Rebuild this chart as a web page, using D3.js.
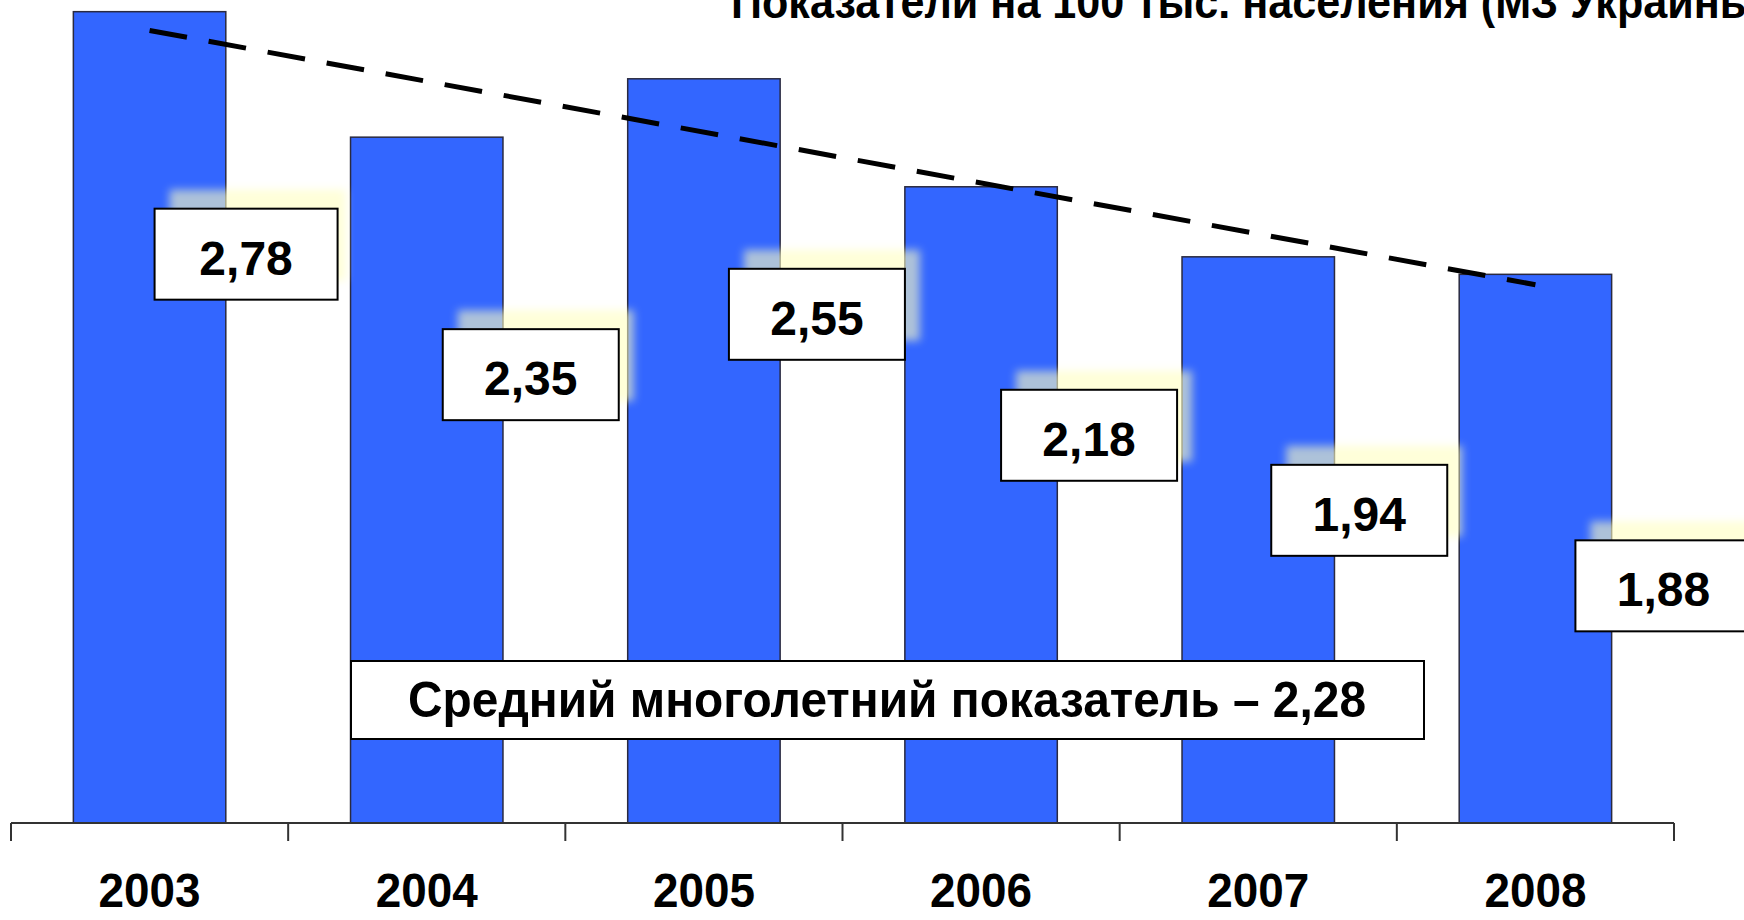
<!DOCTYPE html>
<html>
<head>
<meta charset="utf-8">
<script src="https://cdn.jsdelivr.net/npm/d3@7"></script>
<style>
  body { margin: 0; background: #fff; }
  svg { display: block; }
  text { font-family: "Liberation Sans", Arial, sans-serif; font-weight: bold; }
</style>
</head>
<body>
<svg width="1744" height="920"></svg>
<script>
var years = ["2003", "2004", "2005", "2006", "2007", "2008"];
var values = [2.78, 2.35, 2.55, 2.18, 1.94, 1.88];
var valueLabels = ["2,78", "2,35", "2,55", "2,18", "1,94", "1,88"];
var avgValue = "2,28";
var titleText = "Показатели на 100 тыс. населения (МЗ Украины)";
var avgText = "Средний многолетний показатель – " + avgValue;

// hand placed label boxes (offset from bar centre / bar top), as in the slide
var labelDx = [5, 16, 25, 20, 13, 40];
var labelDy = [197, 192, 190, 203, 208, 266];

var svg = d3.select("svg"),
  width = +svg.attr("width"),
  height = +svg.attr("height");

var baseY = 823;

var x = d3.scaleBand()
  .domain(years)
  .range([11, 1674])
  .paddingInner(0.45)
  .paddingOuter(0.225);

var y = d3.scaleLinear().domain([0, 2.82]).range([baseY, 0]);

var defs = svg.append("defs");
defs.append("filter")
  .attr("id", "glow")
  .attr("x", "-20%").attr("y", "-20%")
  .attr("width", "140%").attr("height", "140%")
  .append("feGaussianBlur")
  .attr("stdDeviation", 4);

// bars
svg.append("g")
  .selectAll("rect")
  .data(values)
  .enter()
  .append("rect")
  .attr("x", function (d, i) { return x(years[i]); })
  .attr("y", function (d) { return y(d); })
  .attr("width", x.bandwidth())
  .attr("height", function (d) { return baseY - y(d); })
  .attr("fill", "#3366ff")
  .attr("stroke", "#2a2a40")
  .attr("stroke-width", 1.5);

// axis line and ticks
var step = x.step();
var axis = svg.append("g").attr("stroke", "#333").attr("stroke-width", 2);
axis.append("line")
  .attr("x1", x.range()[0]).attr("x2", x.range()[1])
  .attr("y1", baseY).attr("y2", baseY);
axis.selectAll("line.tick")
  .data(d3.range(years.length + 1))
  .enter()
  .append("line")
  .attr("class", "tick")
  .attr("x1", function (i) { return x.range()[0] + i * step; })
  .attr("x2", function (i) { return x.range()[0] + i * step; })
  .attr("y1", baseY)
  .attr("y2", baseY + 18);

// year labels
svg.append("g")
  .selectAll("text")
  .data(years)
  .enter()
  .append("text")
  .attr("x", function (d) { return x(d) + x.bandwidth() / 2; })
  .attr("y", 907)
  .attr("text-anchor", "middle")
  .attr("font-size", 49)
  .attr("textLength", 102)
  .attr("lengthAdjust", "spacingAndGlyphs")
  .text(function (d) { return d; });

// linear trend
var n = values.length;
var mx = d3.mean(d3.range(n)), my = d3.mean(values);
var slope = d3.sum(values, function (v, i) { return (i - mx) * (v - my); }) /
  d3.sum(d3.range(n), function (i) { return (i - mx) * (i - mx); });
var trend = [0, n - 1].map(function (i) {
  return [x(years[i]) + x.bandwidth() / 2, y(my + slope * (i - mx))];
});
svg.append("path")
  .attr("d", d3.line()(trend))
  .attr("stroke", "#000")
  .attr("stroke-width", 5)
  .attr("stroke-dasharray", "38,22")
  .attr("fill", "none");

// value boxes
var boxW = 176, boxH = 91;
var labels = svg.append("g")
  .selectAll("g")
  .data(values)
  .enter()
  .append("g")
  .attr("transform", function (d, i) {
    var cx = x(years[i]) + x.bandwidth() / 2 + labelDx[i];
    return "translate(" + cx + "," + (y(d) + labelDy[i]) + ")";
  });

labels.append("rect")
  .attr("x", 15).attr("y", -19)
  .attr("width", boxW).attr("height", boxH)
  .attr("fill", "#ffffc0")
  .attr("opacity", 0.6)
  .attr("filter", "url(#glow)");

labels.append("rect")
  .attr("width", function (d, i) { return i === 0 ? boxW + 7 : boxW; })
  .attr("height", boxH)
  .attr("fill", "#fff")
  .attr("stroke", "#000")
  .attr("stroke-width", 2);

labels.append("text")
  .attr("x", function (d, i) { return i === 0 ? (boxW + 7) / 2 : boxW / 2; })
  .attr("y", 66)
  .attr("text-anchor", "middle")
  .attr("font-size", 48)
  .text(function (d, i) { return valueLabels[i]; });

// average annotation
var avg = svg.append("g").attr("transform", "translate(351,661)");
avg.append("rect")
  .attr("width", 1073).attr("height", 78)
  .attr("fill", "#fff")
  .attr("stroke", "#000")
  .attr("stroke-width", 2);
avg.append("text")
  .attr("x", 536)
  .attr("y", 56)
  .attr("text-anchor", "middle")
  .attr("font-size", 50)
  .attr("textLength", 958)
  .attr("lengthAdjust", "spacingAndGlyphs")
  .text(avgText);

// title (runs off the top/right edge as in the source)
svg.append("text")
  .attr("x", 731)
  .attr("y", 18)
  .attr("font-size", 46)
  .attr("textLength", 1040)
  .attr("lengthAdjust", "spacingAndGlyphs")
  .text(titleText);
</script>
</body>
</html>
